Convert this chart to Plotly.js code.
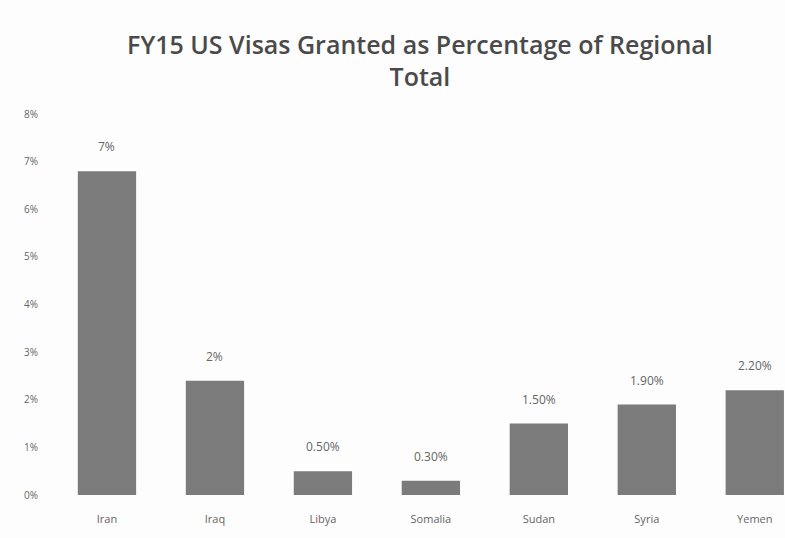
<!DOCTYPE html>
<html>
<head>
<meta charset="utf-8">
<script src="https://cdn.plot.ly/plotly-3.0.1.min.js"></script>
<style>
  html, body { margin: 0; padding: 0; background: #fdfdfd; }
  #chart { width: 785px; height: 538px; }
</style>
</head>
<body>
<div id="chart"></div>
<script>
// countries and share of regional visas (percent)
const countries = ['Iran', 'Iraq', 'Libya', 'Somalia', 'Sudan', 'Syria', 'Yemen'];
const percents = [6.8, 2.4, 0.5, 0.3, 1.5, 1.9, 2.2];
const labels = ['7%', '2%', '0.50%', '0.30%', '1.50%', '1.90%', '2.20%'];
const yTicks = [0, 1, 2, 3, 4, 5, 6, 7, 8];

const grey = '#7b7b7b';
const textGrey = '#666';

const trace = {
  type: 'bar',
  x: countries,
  y: percents,
  marker: { color: grey },
  hoverinfo: 'x+y'
};

// value labels sit a bit above each bar, like in the original
const notes = countries.map((c, i) => ({
  x: c,
  y: percents[i],
  text: labels[i],
  showarrow: false,
  yanchor: 'bottom',
  yshift: 14,
  font: { family: 'Open Sans, sans-serif', size: 12, color: textGrey }
}));

const layout = {
  width: 785,
  height: 538,
  paper_bgcolor: '#fdfdfd',
  plot_bgcolor: '#fdfdfd',
  margin: { l: 53, r: 0, t: 114, b: 43 },
  bargap: 0.46,
  showlegend: false,
  title: {
    text: 'FY15 US Visas Granted as Percentage of Regional<br>Total',
    x: 0.535,
    xanchor: 'center',
    yref: 'container',
    y: 0.9,
    yanchor: 'middle',
    font: { family: 'Open Sans, sans-serif', size: 25, color: '#4a4a4a', weight: 600 }
  },
  xaxis: {
    type: 'category',
    range: [-0.5, 6.28],
    showline: false,
    showgrid: false,
    zeroline: false,
    ticks: '',
    ticklabelstandoff: 16,
    tickfont: { family: 'Open Sans, sans-serif', size: 11, color: textGrey }
  },
  yaxis: {
    range: [0, 8],
    tickmode: 'array',
    tickvals: yTicks,
    ticktext: yTicks.map(v => v + '%'),
    showline: false,
    showgrid: false,
    zeroline: false,
    ticks: '',
    ticklabelstandoff: 14,
    tickfont: { family: 'Open Sans, sans-serif', size: 10, color: textGrey }
  },
  annotations: notes
};

Plotly.newPlot('chart', [trace], layout, { displayModeBar: false, staticPlot: true });
</script>
</body>
</html>
